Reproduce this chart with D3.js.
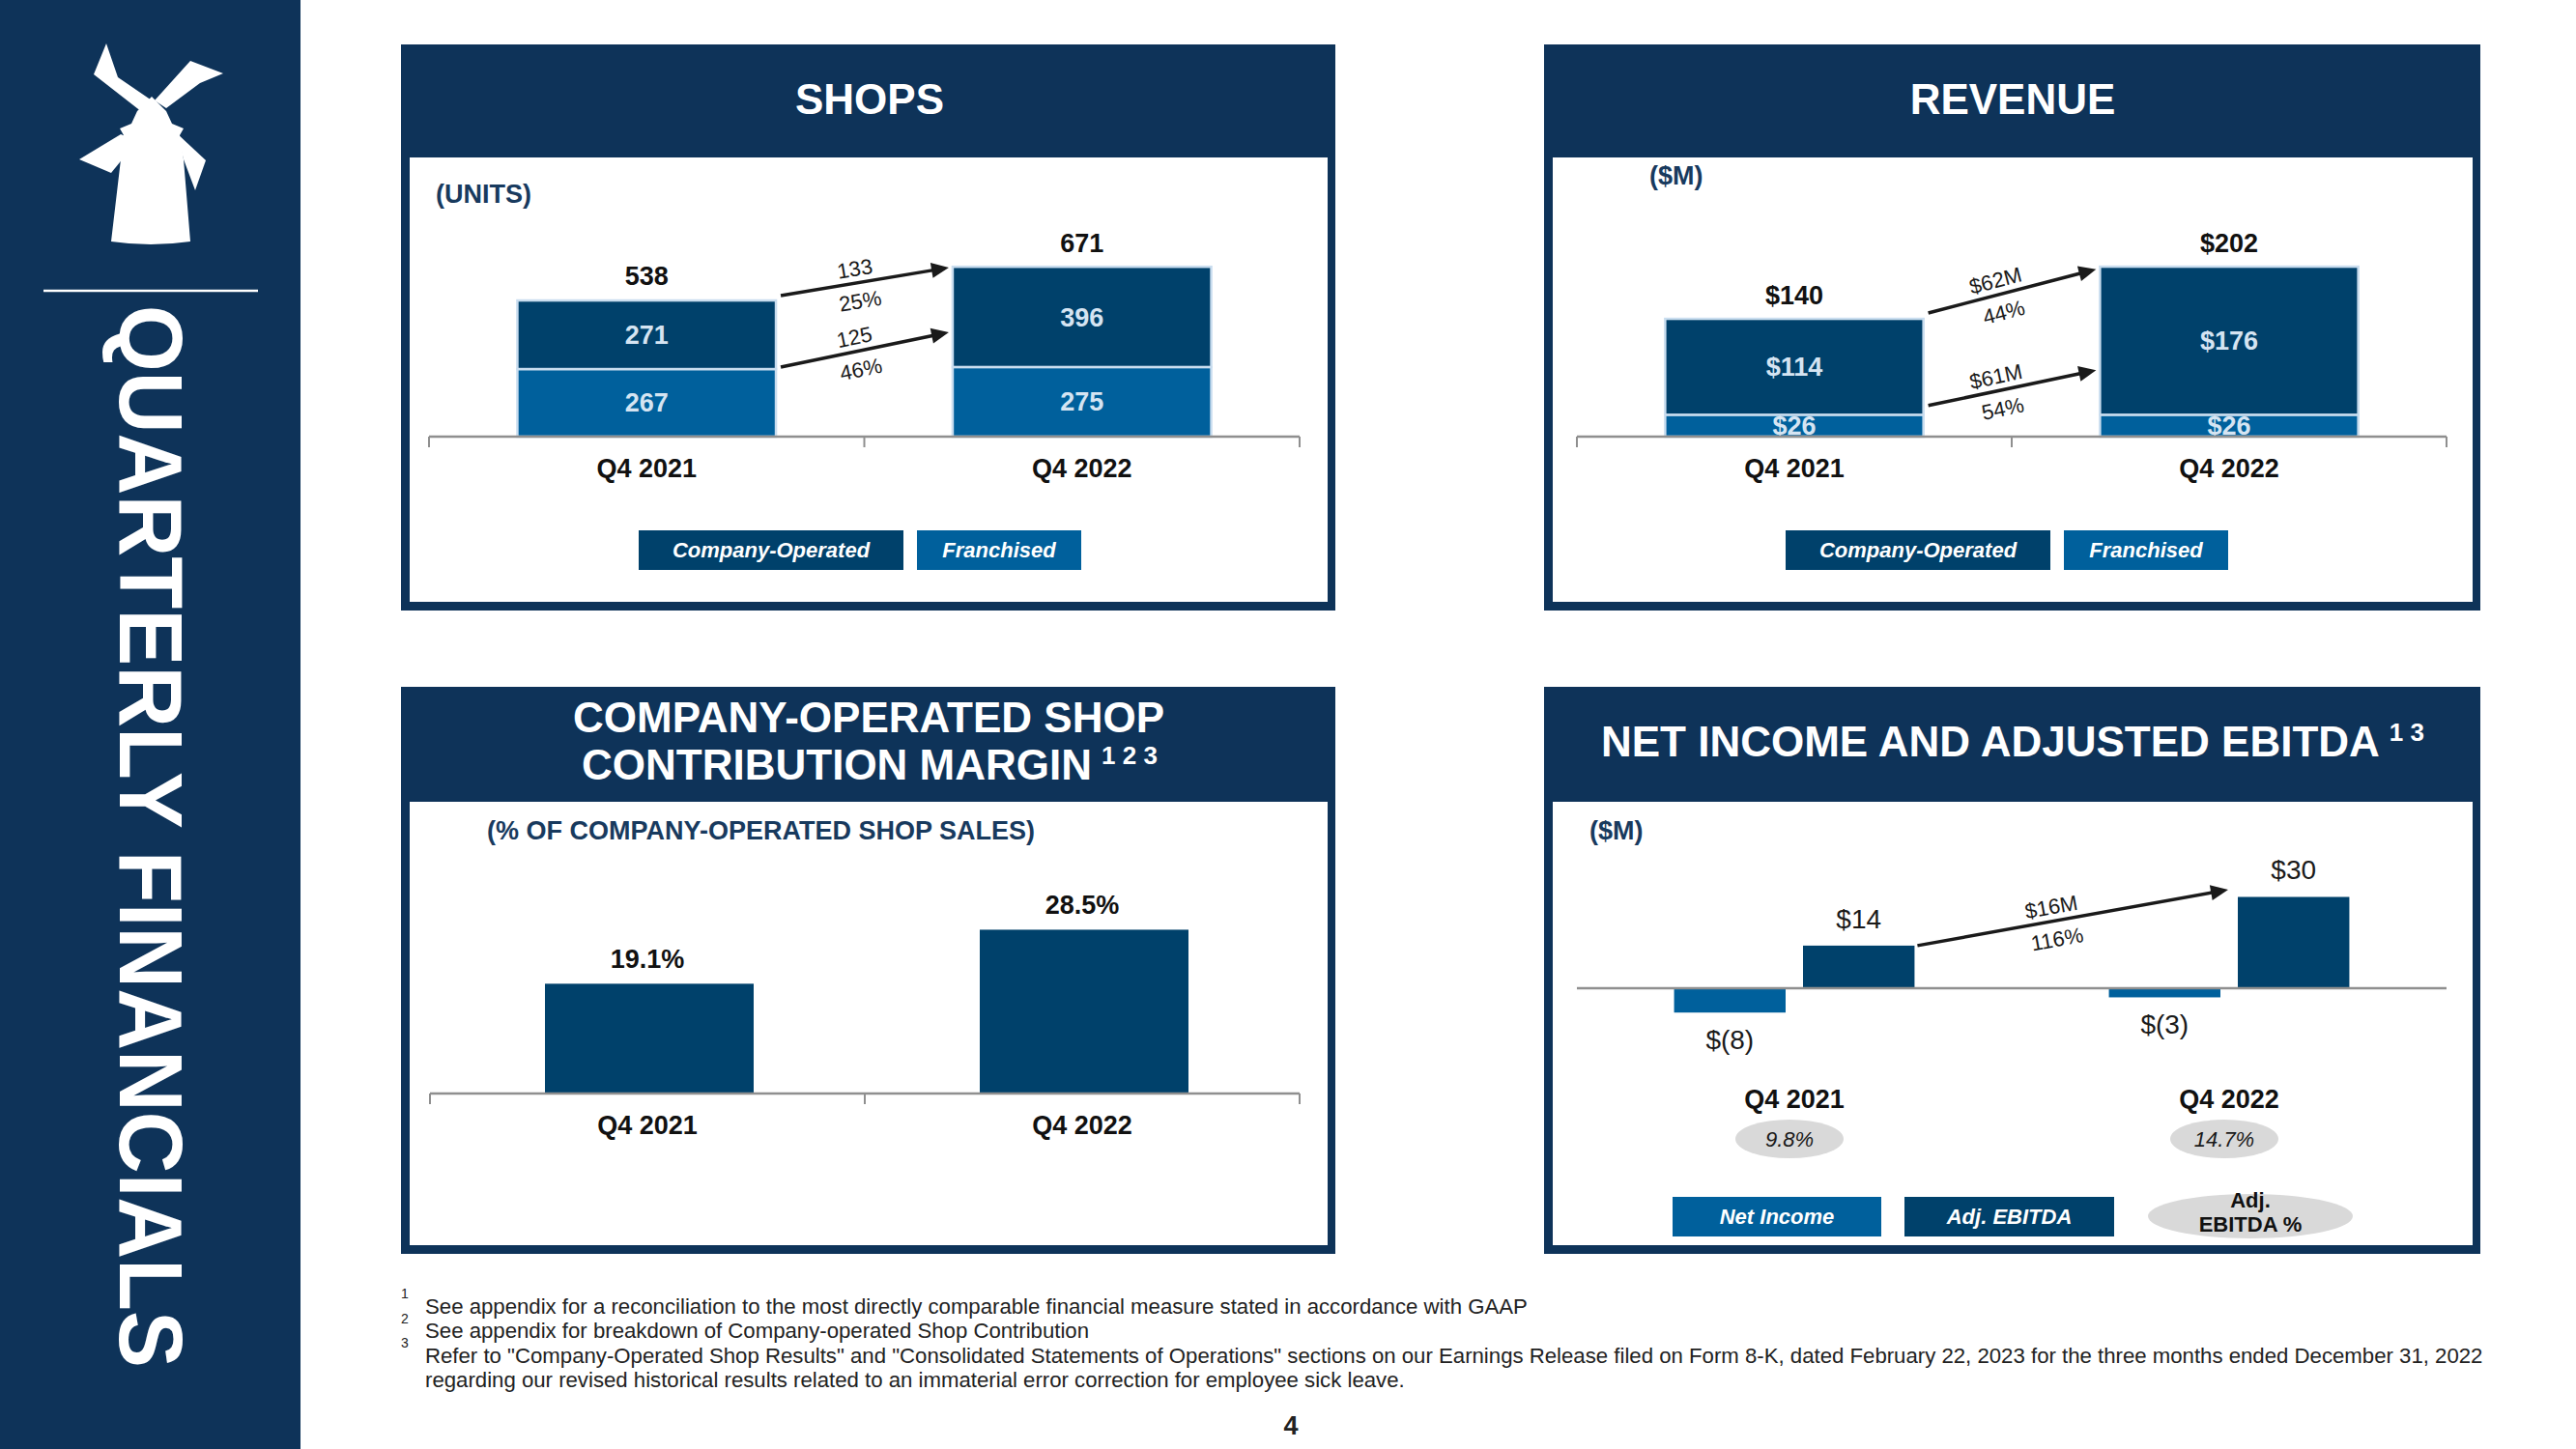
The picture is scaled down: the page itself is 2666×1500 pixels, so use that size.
<!DOCTYPE html>
<html>
<head>
<meta charset="utf-8">
<script src="https://cdn.jsdelivr.net/npm/d3@7"></script>
<style>
	body { margin: 0; background: #ffffff; }
	svg { display: block; font-family: "Liberation Sans", Arial, Helvetica, sans-serif; }
</style>
</head>
<body>
<div id="slide"></div>
<script>

// Chart values
var quarters = [ "Q4 2021", "Q4 2022" ];

var shopsCompany = [ 271, 396 ];
var shopsFranchised = [ 267, 275 ];
var shopsTotal = [ 538, 671 ];
var shopsArrows = [
	{ top: "133", bottom: "25%", from: 557, to: 668 },
	{ top: "125", bottom: "46%", from: 275, to: 412 }
];

var revenueCompany = [ 114, 176 ];
var revenueFranchised = [ 26, 26 ];
var revenueTotal = [ 140, 202 ];
var revenueArrows = [
	{ top: "$62M", bottom: "44%", from: 147, to: 199 },
	{ top: "$61M", bottom: "54%", from: 37, to: 79 }
];

var marginPct = [ 19.1, 28.5 ];

var netIncome = [ -8, -3 ];
var adjEbitda = [ 14, 30 ];
var adjEbitdaPct = [ 9.8, 14.7 ];
var ebitdaArrow = { top: "$16M", bottom: "116%", from: 14, to: 32.4 };

var footnotes = [
	"See appendix for a reconciliation to the most directly comparable financial measure stated in accordance with GAAP",
	"See appendix for breakdown of Company-operated Shop Contribution",
	"Refer to \"Company-Operated Shop Results\" and \"Consolidated Statements of Operations\" sections on our Earnings Release filed on Form 8-K, dated February 22, 2023 for the three months ended December 31, 2022",
	"regarding our revised historical results related to an immaterial error correction for employee sick leave."
];
var footnoteMarks = [ "1", "2", "3", "" ];

// Colours
var navy = "#0e3359";
var dark = "#00416b";
var mid = "#00609c";
var edge = "#c9ddef";
var inner = "#d5e4f2";
var axisGray = "#8f8f8f";
var ink = "#111111";

var money = function( v )
{
	return v < 0 ? "$(" + Math.abs( v ) + ")" : "$" + v;
};

var svg = d3.select( "#slide" ).append( "svg" )
	.attr( "width", 2666 )
	.attr( "height", 1500 );

var label = function( parent, x, y, text, opts )
{
	opts = opts || {};
	return parent.append( "text" )
		.attr( "x", x )
		.attr( "y", y )
		.attr( "dy", "0.35em" )
		.attr( "text-anchor", opts.anchor || "middle" )
		.attr( "font-size", opts.size || 27 )
		.attr( "font-weight", opts.weight || "normal" )
		.attr( "font-style", opts.style || "normal" )
		.attr( "fill", opts.fill || ink )
		.text( text );
};

// Sidebar
svg.append( "rect" ).attr( "x", 0 ).attr( "y", 0 ).attr( "width", 311 ).attr( "height", 1500 ).attr( "fill", navy );

var logo = svg.append( "g" ).attr( "fill", "#ffffff" );
logo.append( "path" ).attr( "d", "M110,45 L122,80 L160,106 L147,116 L97,77 Z" );
logo.append( "path" ).attr( "d", "M197,63 L231,76 L207,86 L172,112 L160,104 Z" );
logo.append( "path" ).attr( "d", "M82,165 L125,139 L142,146 L115,179 Z" );
logo.append( "path" ).attr( "d", "M183,138 L213,166 L202,197 L190,165 Z" );
logo.append( "path" ).attr( "d", "M157,100 L172,115 L178,128 L190,133 L186,140 L190,165 L197,250 Q156,256 115,250 L125,165 L128,140 L124,133 L136,128 L142,115 Z" );

svg.append( "line" )
	.attr( "x1", 45 ).attr( "x2", 267 )
	.attr( "y1", 301 ).attr( "y2", 301 )
	.attr( "stroke", "#ffffff" ).attr( "stroke-width", 2.5 );

svg.append( "text" )
	.attr( "transform", "translate(157,866) rotate(90)" )
	.attr( "y", 33 )
	.attr( "text-anchor", "middle" )
	.attr( "font-family", "'Liberation Sans Narrow', 'Arial Narrow', 'Liberation Sans', sans-serif" )
	.attr( "font-weight", "bold" )
	.attr( "font-size", 93 )
	.attr( "fill", "#ffffff" )
	.attr( "textLength", 1100 )
	.attr( "lengthAdjust", "spacingAndGlyphs" )
	.text( "QUARTERLY FINANCIALS" );

// Panel frames
var panel = function( x0, y0, w, h, headerH )
{
	svg.append( "rect" ).attr( "x", x0 ).attr( "y", y0 ).attr( "width", w ).attr( "height", h ).attr( "fill", navy );
	svg.append( "rect" ).attr( "x", x0 + 9 ).attr( "y", y0 + headerH ).attr( "width", w - 17 ).attr( "height", h - headerH - 9 ).attr( "fill", "#ffffff" );
};

panel( 415, 46, 967, 586, 117 );
panel( 1598, 46, 969, 586, 117 );
panel( 415, 711, 967, 587, 119 );
panel( 1598, 711, 969, 587, 119 );

var title = function( x, y, parts )
{
	var t = svg.append( "text" )
		.attr( "x", x ).attr( "y", y ).attr( "dy", "0.35em" )
		.attr( "text-anchor", "middle" )
		.attr( "font-size", 44 )
		.attr( "font-weight", "bold" )
		.attr( "fill", "#ffffff" );
	parts.forEach( function( p ) {
		t.append( "tspan" )
			.attr( "font-size", p.sup ? 26 : 44 )
			.attr( "dy", p.sup ? -16 : null )
			.attr( "dx", p.sup ? 10 : null )
			.text( p.text );
	} );
	return t;
};

title( 900, 103, [ { text: "SHOPS" } ] );
title( 2083, 103, [ { text: "REVENUE" } ] );
title( 899, 743, [ { text: "COMPANY-OPERATED SHOP" } ] );
title( 900, 792, [ { text: "CONTRIBUTION MARGIN" }, { text: "1 2 3", sup: true } ] );
title( 2083, 768, [ { text: "NET INCOME AND ADJUSTED EBITDA" }, { text: "1 3", sup: true } ] );

label( svg, 451, 201, "(UNITS)", { anchor: "start", weight: "bold", fill: "#183a5e" } );
label( svg, 1707, 182, "($M)", { anchor: "start", weight: "bold", fill: "#183a5e" } );
label( svg, 504, 860, "(% OF COMPANY-OPERATED SHOP SALES)", { anchor: "start", weight: "bold", fill: "#183a5e" } );
label( svg, 1645, 860, "($M)", { anchor: "start", weight: "bold", fill: "#183a5e" } );

// Shared pieces
var bandAxis = function( x, base )
{
	var r = x.range();
	var ticks = [ r[ 0 ] ].concat( x.domain().map( function( q ) { return x( q ) + x.bandwidth(); } ) );
	svg.append( "line" )
		.attr( "x1", r[ 0 ] ).attr( "x2", r[ 1 ] )
		.attr( "y1", base ).attr( "y2", base )
		.attr( "stroke", axisGray ).attr( "stroke-width", 2.5 );
	svg.append( "g" ).selectAll( "line" )
		.data( ticks )
		.enter()
		.append( "line" )
		.attr( "x1", function( d ) { return d; } )
		.attr( "x2", function( d ) { return d; } )
		.attr( "y1", base ).attr( "y2", base + 11 )
		.attr( "stroke", axisGray ).attr( "stroke-width", 2 );
};

var quarterLabels = function( x, y )
{
	svg.append( "g" ).selectAll( "text" )
		.data( x.domain() )
		.enter()
		.append( "text" )
		.attr( "x", function( d ) { return x( d ) + x.bandwidth() / 2; } )
		.attr( "y", y )
		.attr( "dy", "0.35em" )
		.attr( "text-anchor", "middle" )
		.attr( "font-size", 27 )
		.attr( "font-weight", "bold" )
		.attr( "fill", ink )
		.text( function( d ) { return d; } );
};

var arrow = function( x1, y1, x2, y2, top, bottom, shift )
{
	var g = svg.append( "g" );
	var ang = Math.atan2( y2 - y1, x2 - x1 );
	var head = 18;
	var half = 8;
	var bx = x2 - head * Math.cos( ang );
	var by = y2 - head * Math.sin( ang );
	g.append( "line" )
		.attr( "x1", x1 ).attr( "y1", y1 )
		.attr( "x2", bx + 2 * Math.cos( ang ) ).attr( "y2", by + 2 * Math.sin( ang ) )
		.attr( "stroke", "#1a1a1a" ).attr( "stroke-width", 3.5 );
	g.append( "polygon" )
		.attr( "points", [
			[ x2, y2 ],
			[ bx - half * Math.sin( ang ), by + half * Math.cos( ang ) ],
			[ bx + half * Math.sin( ang ), by - half * Math.cos( ang ) ]
		].map( function( p ) { return p.join( "," ); } ).join( " " ) )
		.attr( "fill", "#1a1a1a" );

	var mx = ( x1 + x2 ) / 2 + shift * Math.cos( ang );
	var my = ( y1 + y2 ) / 2 + shift * Math.sin( ang );
	var deg = ang * 180 / Math.PI;
	[ { text: top, off: -15 }, { text: bottom, off: 19 } ].forEach( function( t ) {
		var tx = mx - t.off * Math.sin( ang );
		var ty = my + t.off * Math.cos( ang );
		g.append( "text" )
			.attr( "transform", "translate(" + tx + "," + ty + ") rotate(" + deg + ")" )
			.attr( "dy", "0.35em" )
			.attr( "text-anchor", "middle" )
			.attr( "font-size", 22 )
			.attr( "fill", "#1a1a1a" )
			.text( t.text );
	} );
};

var legendBoxes = function( items, y, h )
{
	items.forEach( function( it ) {
		svg.append( "rect" )
			.attr( "x", it.x ).attr( "y", y ).attr( "width", it.w ).attr( "height", h )
			.attr( "fill", it.fill );
		label( svg, it.x + it.w / 2, y + h / 2, it.text, { size: 22, weight: "bold", style: "italic", fill: "#ffffff" } );
	} );
};

// Stacked charts (shops, revenue)
var stackedChart = function( cfg )
{
	var x = d3.scaleBand().domain( quarters ).range( cfg.xRange );
	var y = d3.scaleLinear().domain( [ 0, cfg.yMax ] ).range( [ cfg.base, cfg.base - cfg.yMax * cfg.pxPerUnit ] );
	var barW = x.bandwidth() * 0.594;
	var bx = function( q ) { return x( q ) + ( x.bandwidth() - barW ) / 2; };

	var rows = quarters.map( function( q, i ) {
		return { quarter: q, franchised: cfg.franchised[ i ], company: cfg.company[ i ], total: cfg.total[ i ] };
	} );
	var series = d3.stack().keys( [ "franchised", "company" ] )( rows );
	var fills = { franchised: mid, company: dark };

	var layers = svg.append( "g" ).selectAll( "g" )
		.data( series )
		.enter()
		.append( "g" )
		.attr( "fill", function( s ) { return fills[ s.key ]; } );

	layers.selectAll( "rect" )
		.data( function( s ) { return s; } )
		.enter()
		.append( "rect" )
		.attr( "x", function( d ) { return bx( d.data.quarter ); } )
		.attr( "y", function( d ) { return y( d[ 1 ] ); } )
		.attr( "width", barW )
		.attr( "height", function( d ) { return y( d[ 0 ] ) - y( d[ 1 ] ); } )
		.attr( "stroke", edge )
		.attr( "stroke-width", 2.5 );

	layers.selectAll( "text" )
		.data( function( s ) { return s; } )
		.enter()
		.append( "text" )
		.attr( "x", function( d ) { return x( d.data.quarter ) + x.bandwidth() / 2; } )
		.attr( "y", function( d ) { return ( y( d[ 0 ] ) + y( d[ 1 ] ) ) / 2; } )
		.attr( "dy", "0.35em" )
		.attr( "text-anchor", "middle" )
		.attr( "font-size", 27 )
		.attr( "font-weight", "bold" )
		.attr( "fill", inner )
		.text( function( d ) { return cfg.fmt( d[ 1 ] - d[ 0 ] ); } );

	svg.append( "g" ).selectAll( "text" )
		.data( rows )
		.enter()
		.append( "text" )
		.attr( "x", function( d ) { return x( d.quarter ) + x.bandwidth() / 2; } )
		.attr( "y", function( d ) { return y( d.total ) - 25; } )
		.attr( "dy", "0.35em" )
		.attr( "text-anchor", "middle" )
		.attr( "font-size", 27 )
		.attr( "font-weight", "bold" )
		.attr( "fill", ink )
		.text( function( d ) { return cfg.fmt( d.total ); } );

	bandAxis( x, cfg.base );
	quarterLabels( x, cfg.base + 33 );

	cfg.arrows.forEach( function( a ) {
		arrow( bx( quarters[ 0 ] ) + barW + 5, y( a.from ), bx( quarters[ 1 ] ) - 4, y( a.to ), a.top, a.bottom, cfg.shift );
	} );
};

stackedChart( {
	xRange: [ 444, 1345 ], base: 452, yMax: 700, pxPerUnit: 0.262,
	company: shopsCompany, franchised: shopsFranchised, total: shopsTotal, arrows: shopsArrows,
	fmt: function( v ) { return "" + v; }, shift: -8
} );

stackedChart( {
	xRange: [ 1632, 2532 ], base: 452, yMax: 220, pxPerUnit: 0.871,
	company: revenueCompany, franchised: revenueFranchised, total: revenueTotal, arrows: revenueArrows,
	fmt: money, shift: -14
} );

legendBoxes( [
	{ x: 661, w: 274, fill: dark, text: "Company-Operated" },
	{ x: 949, w: 170, fill: mid, text: "Franchised" }
], 549, 41 );

legendBoxes( [
	{ x: 1848, w: 274, fill: dark, text: "Company-Operated" },
	{ x: 2136, w: 170, fill: mid, text: "Franchised" }
], 549, 41 );

// Contribution margin
( function() {
	var x = d3.scaleBand().domain( quarters ).range( [ 445, 1345 ] );
	var y = d3.scaleLinear().domain( [ 0, 30 ] ).range( [ 1132, 1132 - 30 * 5.95 ] );
	var barW = x.bandwidth() * 0.48;
	var rows = quarters.map( function( q, i ) { return { quarter: q, value: marginPct[ i ] }; } );

	svg.append( "g" ).selectAll( "rect" )
		.data( rows )
		.enter()
		.append( "rect" )
		.attr( "x", function( d ) { return x( d.quarter ) + ( x.bandwidth() - barW ) / 2 + 2; } )
		.attr( "y", function( d ) { return y( d.value ); } )
		.attr( "width", barW )
		.attr( "height", function( d ) { return y( 0 ) - y( d.value ); } )
		.attr( "fill", dark );

	svg.append( "g" ).selectAll( "text" )
		.data( rows )
		.enter()
		.append( "text" )
		.attr( "x", function( d ) { return x( d.quarter ) + x.bandwidth() / 2; } )
		.attr( "y", function( d ) { return y( d.value ) - 26; } )
		.attr( "dy", "0.35em" )
		.attr( "text-anchor", "middle" )
		.attr( "font-size", 27 )
		.attr( "font-weight", "bold" )
		.attr( "fill", ink )
		.text( function( d ) { return d.value.toFixed( 1 ) + "%"; } );

	bandAxis( x, y( 0 ) );
	quarterLabels( x, y( 0 ) + 33 );
} )();

// Net income and adjusted EBITDA
( function() {
	var x = d3.scaleBand().domain( quarters ).range( [ 1632, 2532 ] );
	var inner2 = d3.scaleBand().domain( [ "net", "ebitda" ] ).range( [ 0, x.bandwidth() * 0.553 ] ).paddingInner( 0.135 );
	var off = ( x.bandwidth() - inner2.range()[ 1 ] ) / 2;
	var y = d3.scaleLinear().domain( [ -10, 35 ] ).range( [ 1023 + 10 * 3.15, 1023 - 35 * 3.15 ] );
	var fills = { net: mid, ebitda: dark };

	var rows = [];
	quarters.forEach( function( q, i ) {
		rows.push( { quarter: q, key: "net", value: netIncome[ i ] } );
		rows.push( { quarter: q, key: "ebitda", value: adjEbitda[ i ] } );
	} );
	var bx = function( d ) { return x( d.quarter ) + off + inner2( d.key ); };

	svg.append( "g" ).selectAll( "rect" )
		.data( rows )
		.enter()
		.append( "rect" )
		.attr( "x", bx )
		.attr( "y", function( d ) { return y( Math.max( 0, d.value ) ); } )
		.attr( "width", inner2.bandwidth() )
		.attr( "height", function( d ) { return Math.abs( y( d.value ) - y( 0 ) ); } )
		.attr( "fill", function( d ) { return fills[ d.key ]; } );

	svg.append( "g" ).selectAll( "text" )
		.data( rows )
		.enter()
		.append( "text" )
		.attr( "x", function( d ) { return bx( d ) + inner2.bandwidth() / 2; } )
		.attr( "y", function( d ) { return d.value < 0 ? y( d.value ) + 28 : y( d.value ) - 28; } )
		.attr( "dy", "0.35em" )
		.attr( "text-anchor", "middle" )
		.attr( "font-size", 28 )
		.attr( "fill", "#1a1a1a" )
		.text( function( d ) { return money( d.value ); } );

	svg.append( "line" )
		.attr( "x1", 1632 ).attr( "x2", 2532 )
		.attr( "y1", y( 0 ) ).attr( "y2", y( 0 ) )
		.attr( "stroke", axisGray ).attr( "stroke-width", 2.5 );

	quarterLabels( x, 1138 );

	svg.append( "g" ).selectAll( "ellipse" )
		.data( quarters )
		.enter()
		.append( "ellipse" )
		.attr( "cx", function( d ) { return x( d ) + x.bandwidth() / 2 - 5; } )
		.attr( "cy", 1179 )
		.attr( "rx", 56 ).attr( "ry", 20 )
		.attr( "fill", "#d9d9d9" );

	svg.append( "g" ).selectAll( "text" )
		.data( quarters )
		.enter()
		.append( "text" )
		.attr( "x", function( d ) { return x( d ) + x.bandwidth() / 2 - 5; } )
		.attr( "y", 1179 )
		.attr( "dy", "0.35em" )
		.attr( "text-anchor", "middle" )
		.attr( "font-size", 22 )
		.attr( "font-style", "italic" )
		.attr( "fill", "#1a1a1a" )
		.text( function( d, i ) { return adjEbitdaPct[ i ].toFixed( 1 ) + "%"; } );

	var a = rows[ 1 ];
	var b = rows[ 3 ];
	arrow( bx( a ) + inner2.bandwidth() + 3, y( ebitdaArrow.from ), bx( b ) - 10, y( ebitdaArrow.to ), ebitdaArrow.top, ebitdaArrow.bottom, -20 );
} )();

legendBoxes( [
	{ x: 1731, w: 216, fill: mid, text: "Net Income" },
	{ x: 1971, w: 217, fill: dark, text: "Adj. EBITDA" }
], 1239, 41 );

svg.append( "ellipse" ).attr( "cx", 2329 ).attr( "cy", 1259 ).attr( "rx", 106 ).attr( "ry", 23 ).attr( "fill", "#d9d9d9" );
label( svg, 2329, 1242, "Adj.", { size: 22, weight: "bold" } );
label( svg, 2329, 1267, "EBITDA %", { size: 22, weight: "bold" } );

// Footnotes
var notes = svg.append( "g" );
footnotes.forEach( function( n, i ) {
	var yy = 1352 + i * 25.5;
	if( footnoteMarks[ i ] )
	{
		notes.append( "text" )
			.attr( "x", 415 ).attr( "y", yy - 8 )
			.attr( "font-size", 14 )
			.attr( "fill", "#222" )
			.text( footnoteMarks[ i ] );
	}
	notes.append( "text" )
		.attr( "x", 440 ).attr( "y", yy )
		.attr( "dy", "0.35em" )
		.attr( "font-size", 22.2 )
		.attr( "fill", "#222" )
		.text( n );
} );

label( svg, 1336, 1476, "4", { size: 27, weight: "bold", fill: "#222" } );

</script>
</body>
</html>
